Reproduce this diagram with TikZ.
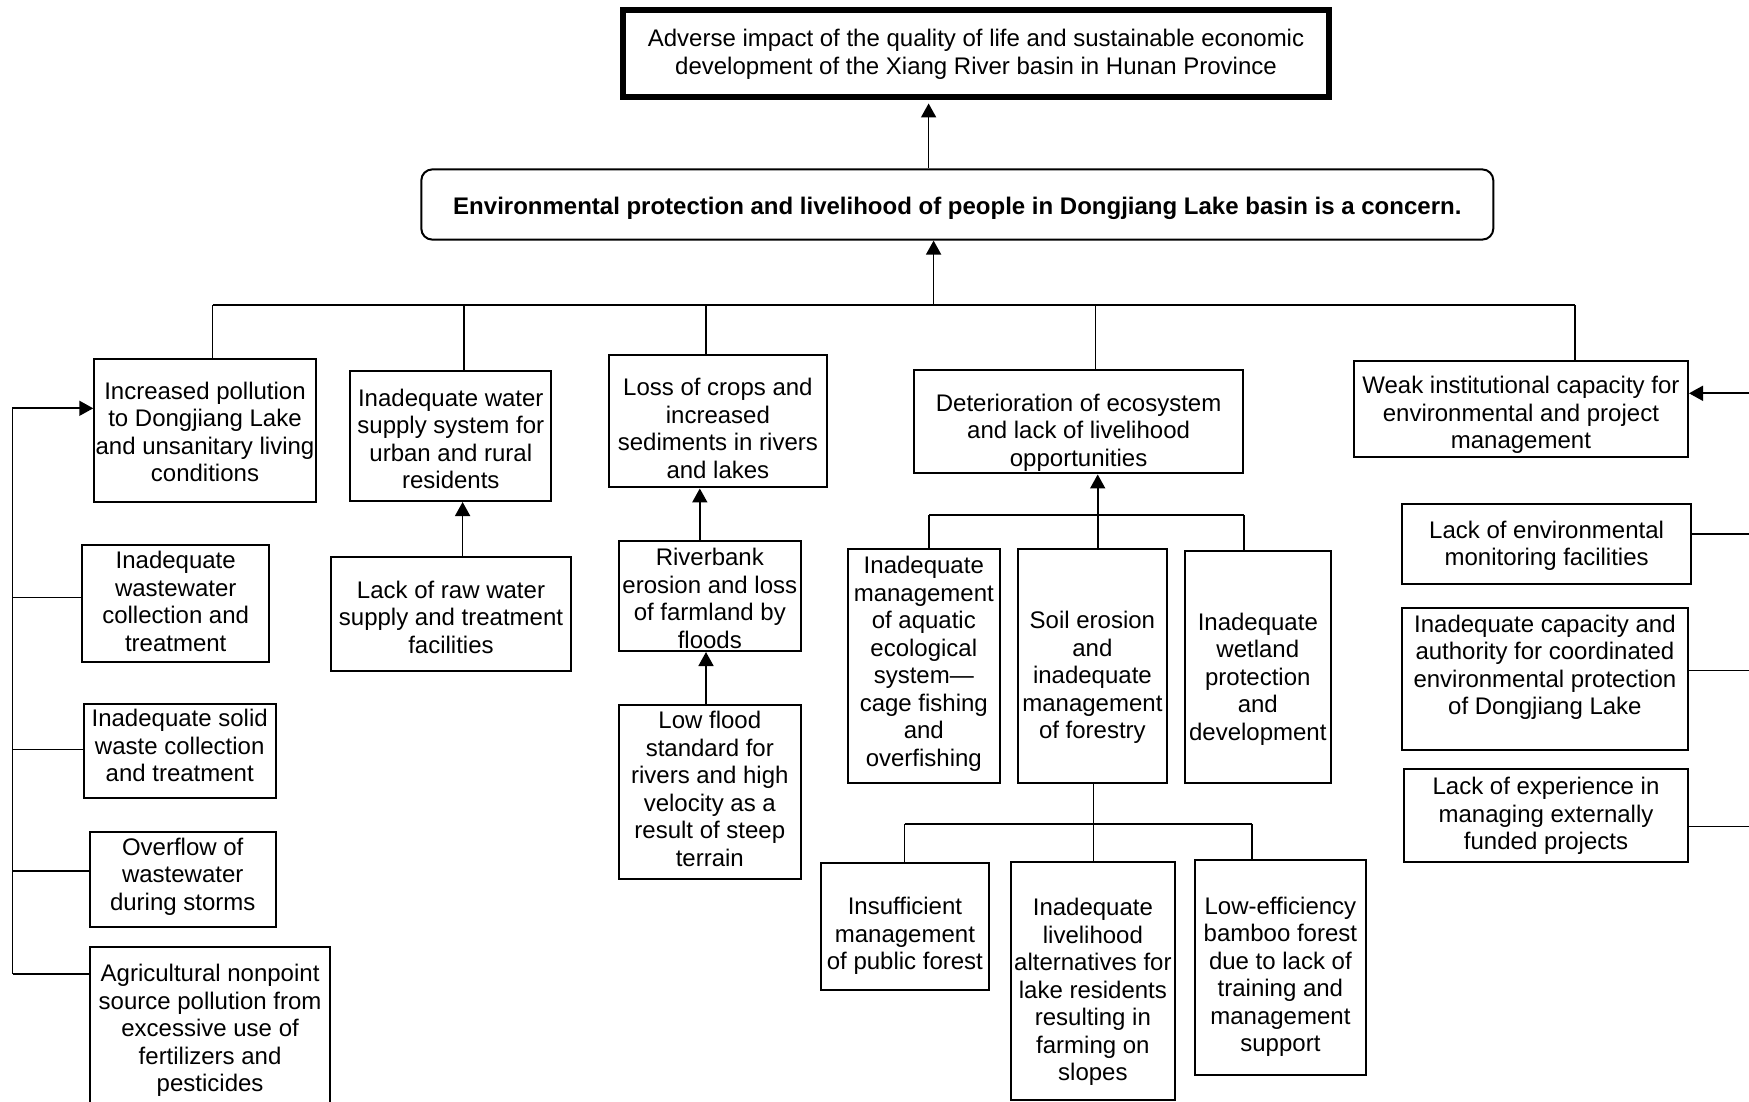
\documentclass[tikz,border=0pt]{standalone}
\usepackage{fontspec}
\setmainfont{Liberation Sans}
\usetikzlibrary{arrows.meta}
\newcommand\dnpad[1]{\rule{0pt}{\dimexpr 17.5pt+#1pt*2\relax}}
\newcommand\uppad[1]{\rule[-\dimexpr 5pt+#1pt*2\relax]{0pt}{\dimexpr 5pt+#1pt*2\relax}}
\tikzset{
  box/.style={draw, line width=2pt, inner sep=0pt, align=center,
    font=\fontsize{24}{27.5}\selectfont},
  conn/.style={line width=1.7pt},
  arr/.style={conn, -{Triangle[width=15pt,length=14pt]}},
}
\begin{document}
\begin{tikzpicture}[x=1pt,y=-1pt]
\useasboundingbox (0,0) rectangle (1749,1101);
\clip (0,0) rectangle (1749,1101);
\fill[white] (0,0) rectangle (1749,1101);

% top and second level
\node[box, line width=6.5pt, minimum width=706pt, minimum height=87pt] (top) at (976,53.5)
  {\dnpad{0.5}Adverse impact of the quality of life and sustainable economic\\development of the Xiang River basin in Hunan Province};
\node[box, rounded corners=11pt, minimum width=1072pt, minimum height=70.2pt, font=\fontsize{24}{27.5}\selectfont\bfseries] (env) at (957.3,204.5)
  {\dnpad{3.3}Environmental protection and livelihood of people in Dongjiang Lake basin is a concern.};

% first row
\node[box, minimum width=221.5pt, minimum height=142.8pt] (b1) at (205,430.2)
  {\dnpad{1.7}Increased pollution\\to Dongjiang Lake\\and unsanitary living\\conditions};
\node[box, minimum width=201pt, minimum height=130pt] (b2) at (450.8,436)
  {\dnpad{3}Inadequate water\\supply system for\\urban and rural\\residents};
\node[box, minimum width=218pt, minimum height=132.5pt] (b3) at (717.9,421.2)
  {\dnpad{7}Loss of crops and\\increased\\sediments in rivers\\and lakes};
\node[box, minimum width=329.3pt, minimum height=103.5pt] (b4) at (1078.6,421.7)
  {\dnpad{10.8}Deterioration of ecosystem\\and lack of livelihood\\opportunities};
\node[box, minimum width=334.2pt, minimum height=95.4pt] (b5) at (1520.9,409)
  {\dnpad{6}Weak institutional capacity for\\environmental and project\\management};

% left column
\node[box, minimum width=187.5pt, minimum height=117.7pt] (ww) at (175.7,603.6)
  {Inadequate\\wastewater\\collection and\\treatment\uppad{0}};
\node[box, minimum width=192pt, minimum height=94.3pt] (sw) at (179.7,751)
  {Inadequate solid\\waste collection\\and treatment\uppad{3}};
\node[box, minimum width=186pt, minimum height=95pt] (of) at (182.7,879.5)
  {Overflow of\\wastewater\\during storms\uppad{2.8}};
\node[box, minimum width=240.6pt, minimum height=165pt] (ag) at (210.1,1029.5)
  {\dnpad{1}Agricultural nonpoint\\source pollution from\\excessive use of\\fertilizers and\\pesticides};

% second column
\node[box, minimum width=240pt, minimum height=113.5pt] (raw) at (451,614.2)
  {\dnpad{2.8}Lack of raw water\\supply and treatment\\facilities};

% third column
\node[box, minimum width=182pt, minimum height=110pt] (rb) at (709.8,596)
  {\dnpad{2.2}Riverbank\\erosion and loss\\of farmland by\\floods};
\node[box, minimum width=182pt, minimum height=174.5pt] (lf) at (709.8,792.2)
  {Low flood\\standard for\\rivers and high\\velocity as a\\result of steep\\terrain\uppad{0.8}};

% ecosystem branch
\node[box, minimum width=152.3pt, minimum height=234.2pt] (aq) at (923.8,665.8)
  {Inadequate\\management\\of aquatic\\ecological\\system---\\cage fishing\\and\\overfishing\uppad{2.2}};
\node[box, minimum width=149pt, minimum height=234.3pt] (so) at (1092.4,665.8)
  {\dnpad{11.8}Soil erosion\\and\\inadequate\\management\\of forestry};
\node[box, minimum width=146.2pt, minimum height=232.4pt] (wl) at (1257.8,666.8)
  {\dnpad{12.2}Inadequate\\wetland\\protection\\and\\development};
\node[box, minimum width=167.8pt, minimum height=126.5pt] (in) at (904.9,926.5)
  {\dnpad{9.7}Insufficient\\management\\of public forest};
\node[box, minimum width=164.6pt, minimum height=237.8pt] (lv) at (1092.9,981.1)
  {\dnpad{10.8}Inadequate\\livelihood\\alternatives for\\lake residents\\resulting in\\farming on\\slopes};
\node[box, minimum width=171.2pt, minimum height=214.7pt] (bb) at (1280.4,967.6)
  {\dnpad{9.3}Low-efficiency\\bamboo forest\\due to lack of\\training and\\management\\support};

% right column
\node[box, minimum width=289.6pt, minimum height=79.8pt] (mon) at (1546.6,543.7)
  {\dnpad{2.2}Lack of environmental\\monitoring facilities};
\node[box, minimum width=286.2pt, minimum height=141.8pt] (cap) at (1544.9,678.6)
  {Inadequate capacity and\\authority for coordinated\\environmental protection\\of Dongjiang Lake\uppad{11.4}};
\node[box, minimum width=284pt, minimum height=92.7pt] (exp) at (1546,815.8)
  {Lack of experience in\\managing externally\\funded projects};

% ---- connectors ----
\coordinate (tA) at (928.6,0);
\draw[arr, shorten >=3.2pt] (env.north -| tA) -- (top.south -| tA);

\coordinate (d1) at (212.6,305.2);
\coordinate (d2) at (463.7,305.2);
\coordinate (d3) at (706,305.2);
\coordinate (dm) at (933.6,305.2);
\coordinate (d4) at (1095.4,305.2);
\coordinate (d5) at (1575.3,305.2);
\draw[conn] (d1) -- (d5);
\draw[conn] (d1) -- (b1.north -| d1);
\draw[conn] (d2) -- (b2.north -| d2);
\draw[conn] (d3) -- (b3.north -| d3);
\draw[conn] (d4) -- (b4.north -| d4);
\draw[conn] (d5) -- (b5.north -| d5);
\draw[arr] (dm) -- (env.south -| dm);

% left feedback line
\coordinate (Lt) at (12.5,408.3);
\coordinate (Lb) at (12.5,974);
\draw[arr] (Lb) -- (Lt) -- (b1.west |- Lt);
\coordinate (l1) at (12.5,597.4);
\coordinate (l2) at (12.5,749.5);
\coordinate (l3) at (12.5,871);
\draw[conn] (l1) -- (ww.west |- l1);
\draw[conn] (l2) -- (sw.west |- l2);
\draw[conn] (l3) -- (of.west |- l3);
\draw[conn] (Lb) -- (ag.west |- Lb);

% water supply
\coordinate (a2) at (462.6,0);
\draw[arr] (raw.north -| a2) -- (b2.south -| a2);

% crops
\coordinate (a3) at (699.8,0);
\draw[arr] (rb.north -| a3) -- (b3.south -| a3);
\coordinate (a3b) at (706,0);
\draw[arr] (lf.north -| a3b) -- (rb.south -| a3b);

% ecosystem sub-tree
\coordinate (s1) at (929.3,515.3);
\coordinate (sm) at (1097.7,515.3);
\coordinate (s3) at (1244,515.3);
\draw[conn] (s1) -- (s3);
\draw[conn] (s1) -- (aq.north -| s1);
\draw[conn] (sm) -- (so.north -| sm);
\draw[conn] (s3) -- (wl.north -| s3);
\draw[arr] (sm) -- (b4.south -| sm);

\coordinate (u1) at (904.6,823.9);
\coordinate (um) at (1093.5,823.9);
\coordinate (u3) at (1251.7,823.9);
\draw[conn] (u1) -- (u3);
\draw[conn] (so.south -| um) -- (um);
\draw[conn] (u1) -- (in.north -| u1);
\draw[conn] (um) -- (lv.north -| um);
\draw[conn] (u3) -- (bb.north -| u3);

% right side
\coordinate (r0) at (1760,393.3);
\coordinate (r1) at (1760,533.7);
\coordinate (r2) at (1760,670.6);
\coordinate (r3) at (1760,826.6);
\draw[arr] (r0) -- (b5.east |- r0);
\draw[conn] (mon.east |- r1) -- (r1);
\draw[conn] (cap.east |- r2) -- (r2);
\draw[conn] (exp.east |- r3) -- (r3);
\end{tikzpicture}
\end{document}
